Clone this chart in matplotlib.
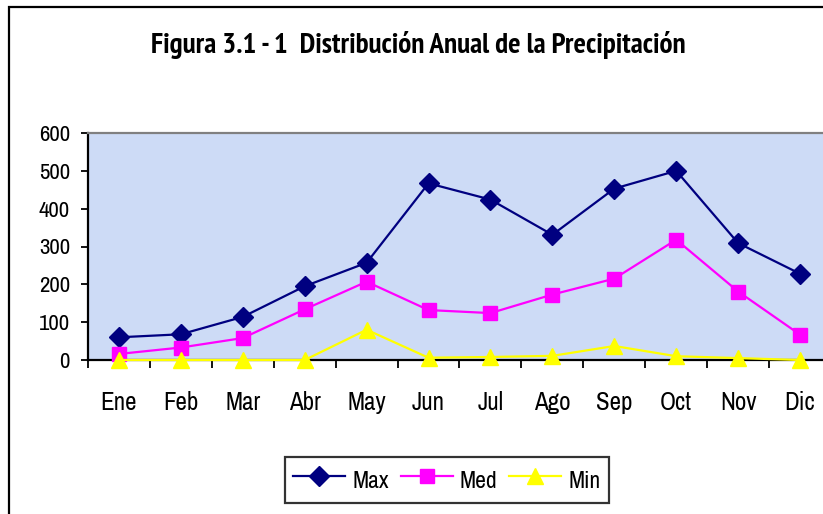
import matplotlib.pyplot as plt
from matplotlib import font_manager
from matplotlib.font_manager import FontProperties
from matplotlib.patches import Rectangle
from matplotlib.lines import Line2D

meses = ["Ene", "Feb", "Mar", "Abr", "May", "Jun", "Jul", "Ago", "Sep", "Oct", "Nov", "Dic"]
p_max = [60, 68, 114, 195, 257, 467, 424, 331, 453, 500, 309, 228]
p_med = [16, 33, 58, 134, 207, 132, 124, 173, 215, 318, 181, 67]
p_min = [0, 0, 0, 0, 80, 6, 8, 11, 37, 10, 5, 0]


def wnum(w):
    return w if isinstance(w, int) else font_manager.weight_dict.get(w, 400)


def is_narrow(f):
    if "Mono" in f.name or f.style != "normal":
        return False
    st = f.stretch
    if isinstance(st, str):
        st = font_manager.stretch_dict.get(st, 500)
    return "Narrow" in f.name or "Condensed" in f.name or st < 500


# the original uses Arial Narrow; take a narrow font file if one is installed
cands = [f for f in font_manager.fontManager.ttflist if is_narrow(f)]
cands.sort(key=lambda f: ("Liberation" not in f.name and "Narrow" not in f.name, f.name))
reg = next((f for f in cands if wnum(f.weight) == 400), None)
bold = None
if reg is not None:
    bold = next((f for f in cands if f.name == reg.name and wnum(f.weight) >= 600), None)
if bold is None:
    bold = next((f for f in cands if wnum(f.weight) >= 600), None)


def fp(size, heavy=False):
    f = bold if heavy else reg
    if f is not None:
        return FontProperties(fname=f.fname, size=size)
    return FontProperties(family="Liberation Sans", size=size * 0.88,
                          weight="bold" if heavy else "normal")


fig = plt.figure(figsize=(8.23, 5.14), dpi=100)
fig.patch.set_facecolor("white")

# chart frame (cropped on the right and bottom)
fig.add_artist(Rectangle((8.5 / 823, -0.1), 1.2, 1.1 - 7.5 / 514,
                         transform=fig.transFigure, fill=False,
                         edgecolor="black", linewidth=1.6))

ax = fig.add_axes([88 / 823, 1 - 360 / 514, 743 / 823, 227 / 514])
ax.set_facecolor("#cddbf6")

x = list(range(len(meses)))
ax.plot(x, p_max, color="#000080", lw=1.6, marker="D", ms=10.5, clip_on=False, zorder=3)
ax.plot(x, p_med, color="#ff00ff", lw=1.6, marker="s", ms=10, clip_on=False, zorder=3)
ax.plot(x, p_min, color="#ffff00", lw=1.6, marker="^", ms=11.5, clip_on=False, zorder=3)

ax.set_xlim(-0.5, 11.5)
ax.set_ylim(0, 600)
ax.set_yticks(range(0, 601, 100))
ax.set_xticks(x)
ax.set_xticklabels(meses)
ax.set_xticks([i - 0.5 for i in range(13)], minor=True)
ax.tick_params(axis="x", which="major", length=0, pad=22)
ax.tick_params(axis="x", which="minor", length=6, width=1.3, direction="out")
ax.tick_params(axis="y", length=5, width=1.3, pad=8)
for lab in ax.get_xticklabels():
    lab.set_fontproperties(fp(18))
for lab in ax.get_yticklabels():
    lab.set_fontproperties(fp(16.5))

for s in ["left", "bottom"]:
    ax.spines[s].set_linewidth(1.6)
ax.spines["top"].set_color("#808080")
ax.spines["top"].set_linewidth(1.6)
ax.spines["right"].set_visible(False)

fig.text(418 / 823, 1 - 45 / 514, "Figura 3.1 - 1  Distribución Anual de la Precipitación",
         ha="center", va="center", fontproperties=fp(21, heavy=True))

handles = [Line2D([], [], color="#000080", lw=1.6, marker="D", ms=10),
           Line2D([], [], color="#ff00ff", lw=1.6, marker="s", ms=9.5),
           Line2D([], [], color="#ffff00", lw=1.6, marker="^", ms=11)]
leg = fig.legend(handles, ["Max", "Med", "Min"], loc="center", bbox_to_anchor=(447 / 823, 1 - 480 / 514),
                 ncol=3, frameon=True, fancybox=False, prop=fp(17), handlelength=2.2,
                 handleheight=1.6, columnspacing=0.5, handletextpad=0.3, borderpad=0.34,
                 borderaxespad=0)
leg.get_frame().set_edgecolor("black")
leg.get_frame().set_linewidth(1.6)

fig.savefig("out.png", dpi=100)
